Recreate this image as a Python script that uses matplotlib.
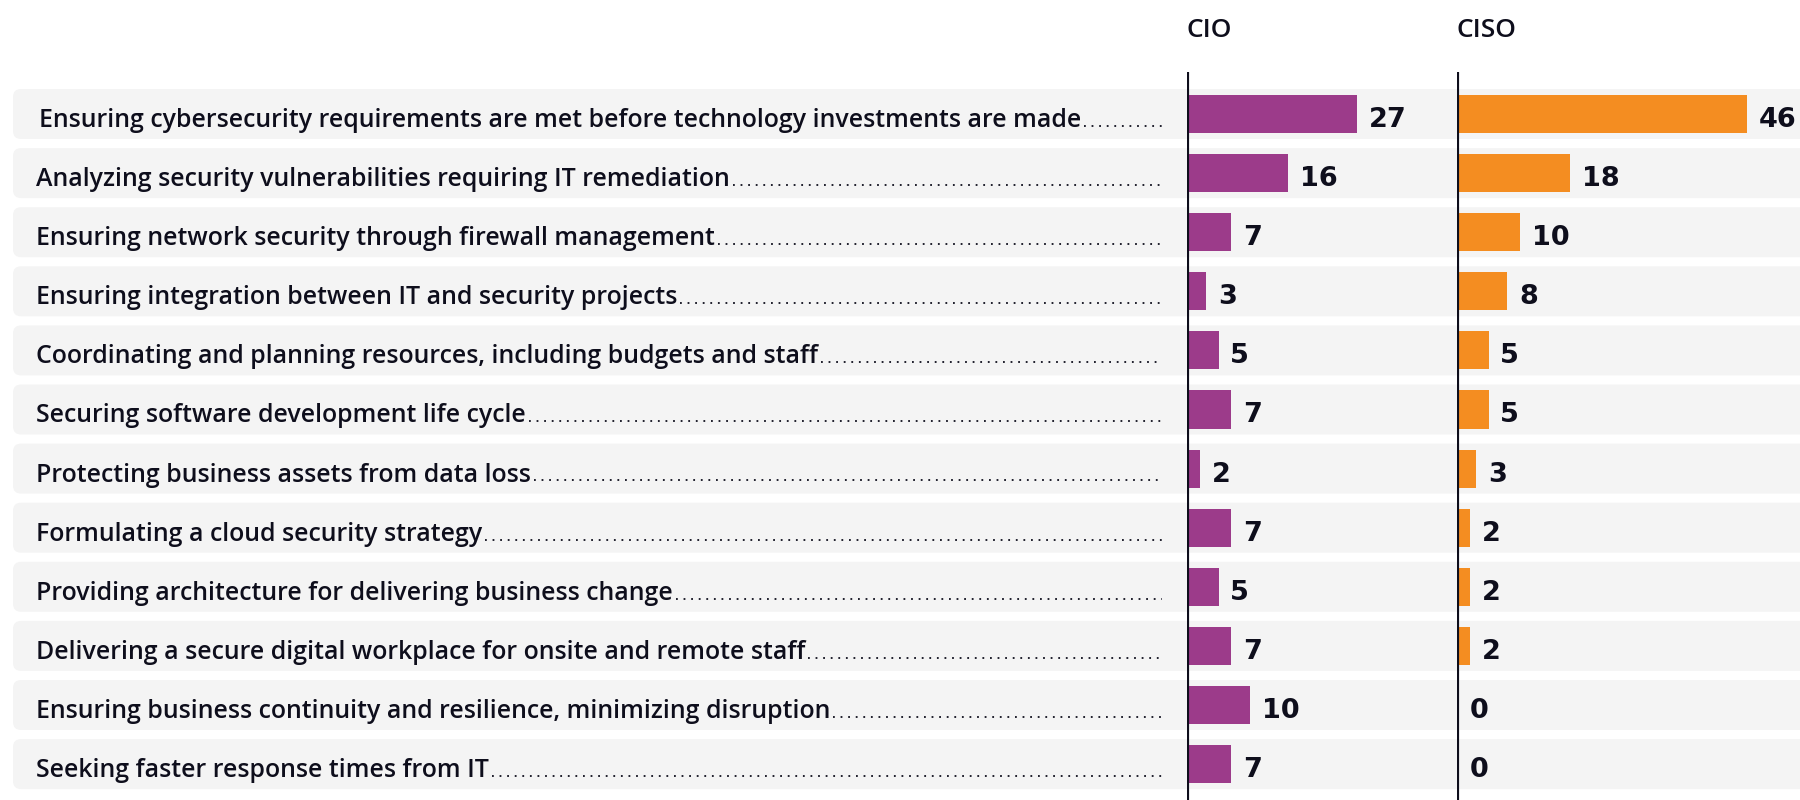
import matplotlib.pyplot as plt
from matplotlib.patches import FancyBboxPatch

# data
labels = [
    "Ensuring cybersecurity requirements are met before technology investments are made",
    "Analyzing security vulnerabilities requiring IT remediation",
    "Ensuring network security through firewall management",
    "Ensuring integration between IT and security projects",
    "Coordinating and planning resources, including budgets and staff",
    "Securing software development life cycle",
    "Protecting business assets from data loss",
    "Formulating a cloud security strategy",
    "Providing architecture for delivering business change",
    "Delivering a secure digital workplace for onsite and remote staff",
    "Ensuring business continuity and resilience, minimizing disruption",
    "Seeking faster response times from IT",
]
cio = [27, 16, 7, 3, 5, 7, 2, 7, 5, 7, 10, 7]
ciso = [46, 18, 10, 8, 5, 5, 3, 2, 2, 2, 0, 0]
groups = ["CIO", "CISO"]

PURPLE = "#9c3b8a"
ORANGE = "#f48d21"
INK = "#0e0e1c"
BAND = "#f4f4f4"

W, H = 1800, 800
row0, pitch = 114, 59.1
ylim = ((H - row0) / pitch, -row0 / pitch)
px_per_unit = 6.3
base = 13 / pitch  # text baseline sits a bit below the row centre


def to_row(y_px):
    return (y_px - row0) / pitch


fig = plt.figure(figsize=(18, 8), dpi=100)
ax = fig.add_axes([0, 0, 1, 1])
ax.set_xlim(0, W)
ax.set_ylim(*ylim)
ax.axis("off")

# grey row bands
for i in range(len(labels)):
    ax.add_patch(FancyBboxPatch((13, i - 0.423), W, 0.846,
                                boxstyle="round,pad=0,rounding_size=8",
                                mutation_aspect=1 / pitch,
                                fc=BAND, ec="none", zorder=0))

# labels with dotted leaders
fig.canvas.draw()
renderer = fig.canvas.get_renderer()
for i, lab in enumerate(labels):
    x0 = 39 if i == 0 else 36
    t = ax.text(x0, i + base, lab, ha="left", va="baseline", fontsize=17.9,
                family="Open Sans", weight="semibold", color=INK)
    bb = t.get_window_extent(renderer=renderer)
    ax.plot([bb.x1 + 3, 1162], [i + base - 0.02] * 2, color=INK, lw=1.3,
            linestyle=(0, (1, 3.2)), solid_capstyle="round")

# bar panels
panels = [(1187, 1457 - 1187, cio, PURPLE), (1457, W - 1457, ciso, ORANGE)]
for (left, width, vals, col), name in zip(panels, groups):
    bx = fig.add_axes([left / W, 0, width / W, 1])
    bx.set_xlim(0, width / px_per_unit)
    bx.set_ylim(*ylim)
    bx.axis("off")
    bx.patch.set_alpha(0)
    bx.barh(range(len(vals)), vals, height=0.643, color=col, zorder=2)
    bx.vlines(0, to_row(72), ylim[0], color=INK, lw=3, zorder=3)
    for i, v in enumerate(vals):
        bx.annotate(str(v), (v, i + base), xytext=(8.5 if v else 9.5, 0),
                    textcoords="offset points", ha="left", va="baseline",
                    fontsize=19.5, family="DejaVu Sans", weight="bold", color=INK,
                    annotation_clip=False)
    bx.text(0, to_row(37), name, ha="left", va="baseline",
            fontsize=19, family="Open Sans", weight="semibold", color=INK)

fig.savefig("out.png", dpi=100)
